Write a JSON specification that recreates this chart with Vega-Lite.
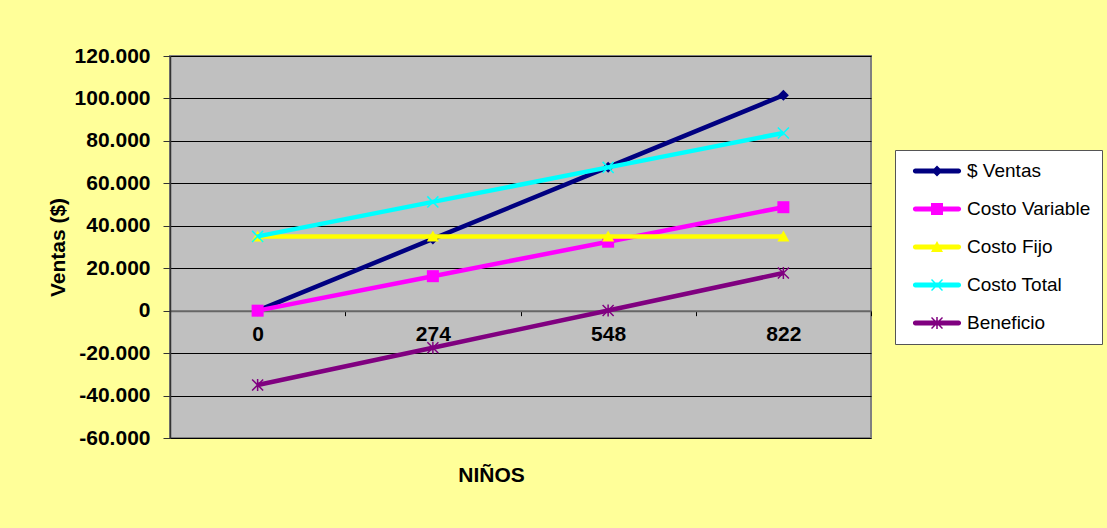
{
  "$schema": "https://vega.github.io/schema/vega-lite/v6.json",
  "width": 701,
  "height": 382,
  "autosize": "none",
  "padding": {"left": 170, "top": 56, "right": 236, "bottom": 90},
  "background": "#FFFF99",
  "config": {
    "locale": {"number": {"decimal": ",", "thousands": ".", "grouping": [3], "currency": ["$", ""], "minus": "-"}},
    "view": {"fill": "#C0C0C0", "stroke": "#808080", "strokeWidth": 2},
    "font": "Liberation Sans"
  },
  "title": {"text": "NIÑOS", "orient": "bottom", "frame": "group", "anchor": "middle", "dx": -29, "offset": 17, "font": "Liberation Sans", "fontSize": 21, "fontWeight": "bold", "color": "black"},
  "data": {"values": [
    {"serie": "$ Ventas", "ninos": 0, "valor": 0},
    {"serie": "$ Ventas", "ninos": 274, "valor": 33800},
    {"serie": "$ Ventas", "ninos": 548, "valor": 67600},
    {"serie": "$ Ventas", "ninos": 822, "valor": 101500},
    {"serie": "Costo Variable", "ninos": 0, "valor": 0},
    {"serie": "Costo Variable", "ninos": 274, "valor": 16250},
    {"serie": "Costo Variable", "ninos": 548, "valor": 32500},
    {"serie": "Costo Variable", "ninos": 822, "valor": 48750},
    {"serie": "Costo Fijo", "ninos": 0, "valor": 35000},
    {"serie": "Costo Fijo", "ninos": 274, "valor": 35000},
    {"serie": "Costo Fijo", "ninos": 548, "valor": 35000},
    {"serie": "Costo Fijo", "ninos": 822, "valor": 35000},
    {"serie": "Costo Total", "ninos": 0, "valor": 35000},
    {"serie": "Costo Total", "ninos": 274, "valor": 51250},
    {"serie": "Costo Total", "ninos": 548, "valor": 67500},
    {"serie": "Costo Total", "ninos": 822, "valor": 83750},
    {"serie": "Beneficio", "ninos": 0, "valor": -35000},
    {"serie": "Beneficio", "ninos": 274, "valor": -17450},
    {"serie": "Beneficio", "ninos": 548, "valor": 100},
    {"serie": "Beneficio", "ninos": 822, "valor": 17750}
  ]},
  "encoding": {
    "x": {
      "field": "ninos", "type": "ordinal",
      "scale": {"type": "band", "paddingInner": 0, "paddingOuter": 0},
      "axis": {
        "title": null, "orient": "bottom", "offset": -127.33, "grid": false,
        "domain": true, "domainColor": "#666666", "domainWidth": 2,
        "ticks": true, "tickBand": "extent", "tickSize": 5, "tickColor": "#000000", "tickWidth": 1,
        "labelAngle": 0, "labelFont": "Liberation Sans", "labelFontSize": 21, "labelFontWeight": "bold", "labelColor": "black", "labelPadding": 8
      }
    },
    "y": {
      "field": "valor", "type": "quantitative",
      "scale": {"domain": [-60000, 120000], "nice": false, "zero": false},
      "axis": {
        "title": "Ventas ($)", "titleFont": "Liberation Sans", "titleFontSize": 21, "titleFontWeight": "bold", "titleColor": "black", "titlePadding": 6,
        "values": [-60000, -40000, -20000, 0, 20000, 40000, 60000, 80000, 100000, 120000],
        "format": ",.0f",
        "grid": true, "gridColor": "#000000", "gridWidth": 1, "gridOpacity": 1,
        "domain": true, "domainColor": "#333333", "domainWidth": 1.5,
        "ticks": true, "tickSize": 7, "tickColor": "#333333", "tickWidth": 1,
        "labelFont": "Liberation Sans", "labelFontSize": 21, "labelFontWeight": "bold", "labelColor": "black", "labelPadding": 13
      }
    }
  },
  "layer": [
    {
      "transform": [{"filter": "datum.serie == '$ Ventas'"}],
      "mark": {"type": "line", "color": "#000080", "strokeWidth": 4.5, "strokeCap": "butt",
        "point": {"filled": true, "opacity": 1, "size": 144, "color": "#000080", "shape": "M0,-0.92L0.92,0L0,0.92L-0.92,0Z"}}
    },
    {
      "transform": [{"filter": "datum.serie == 'Costo Variable'"}],
      "mark": {"type": "line", "color": "#FF00FF", "strokeWidth": 4.5, "strokeCap": "butt",
        "point": {"filled": true, "opacity": 1, "size": 144, "color": "#FF00FF", "shape": "M-1,-1H1V1H-1Z"}}
    },
    {
      "transform": [{"filter": "datum.serie == 'Costo Fijo'"}],
      "mark": {"type": "line", "color": "#FFFF00", "strokeWidth": 4.5, "strokeCap": "butt",
        "point": {"filled": true, "opacity": 1, "size": 144, "color": "#FFFF00", "shape": "M0,-1L1,0.85L-1,0.85Z"}}
    },
    {
      "transform": [{"filter": "datum.serie == 'Costo Total'"}],
      "mark": {"type": "line", "color": "#00FFFF", "strokeWidth": 4.5, "strokeCap": "butt",
        "point": {"filled": true, "opacity": 1, "size": 144, "color": "#00FFFF", "shape": "M-0.832,-1.008L1.008,0.832L0.832,1.008L-1.008,-0.832ZM1.008,-0.832L-0.832,1.008L-1.008,0.832L0.832,-1.008Z"}}
    },
    {
      "transform": [{"filter": "datum.serie == 'Beneficio'"}],
      "mark": {"type": "line", "color": "#800080", "strokeWidth": 4.5, "strokeCap": "butt",
        "point": {"filled": true, "opacity": 1, "size": 144, "color": "#800080", "shape": "M-0.832,-1.008L1.008,0.832L0.832,1.008L-1.008,-0.832ZM1.008,-0.832L-0.832,1.008L-1.008,0.832L0.832,-1.008ZM-0.125,-1H0.125V1H-0.125Z"}}
    },
    {
      "transform": [{"filter": "datum.ninos < 0"}],
      "mark": {"type": "point", "filled": true, "opacity": 1},
      "encoding": {
        "size": {"value": 400},
        "color": {"field": "serie", "type": "nominal",
          "scale": {"domain": ["$ Ventas", "Costo Variable", "Costo Fijo", "Costo Total", "Beneficio"], "range": ["#000080", "#FF00FF", "#FFFF00", "#00FFFF", "#800080"]},
          "legend": {"title": null, "orient": "none", "legendX": 725, "legendY": 94, "fillColor": "white", "strokeColor": "#555555", "padding": 11, "rowPadding": 18, "labelFont": "Liberation Sans", "labelFontSize": 19, "labelColor": "black", "labelOffset": 20, "symbolOffset": 21, "symbolSize": 400, "symbolStrokeWidth": 0, "symbolOpacity": 1, "labelLimit": 300}},
        "shape": {"field": "serie", "type": "nominal",
          "scale": {"domain": ["$ Ventas", "Costo Variable", "Costo Fijo", "Costo Total", "Beneficio"],
            "range": [
              "M-2.16,-0.25H2.16A0.25,0.25 0 0 1 2.16,0.25H-2.16A0.25,0.25 0 0 1 -2.16,-0.25ZM0,-0.55L0.55,0L0,0.55L-0.55,0Z",
              "M-2.16,-0.25H2.16A0.25,0.25 0 0 1 2.16,0.25H-2.16A0.25,0.25 0 0 1 -2.16,-0.25ZM-0.6,-0.6H0.6V0.6H-0.6Z",
              "M-2.16,-0.25H2.16A0.25,0.25 0 0 1 2.16,0.25H-2.16A0.25,0.25 0 0 1 -2.16,-0.25ZM0,-0.6L0.6,0.51L-0.6,0.51Z",
              "M-2.16,-0.25H2.16A0.25,0.25 0 0 1 2.16,0.25H-2.16A0.25,0.25 0 0 1 -2.16,-0.25ZM-0.5,-0.6L0.6,0.5L0.5,0.6L-0.6,-0.5ZM0.6,-0.5L-0.5,0.6L-0.6,0.5L0.5,-0.6Z",
              "M-2.16,-0.25H2.16A0.25,0.25 0 0 1 2.16,0.25H-2.16A0.25,0.25 0 0 1 -2.16,-0.25ZM-0.5,-0.6L0.6,0.5L0.5,0.6L-0.6,-0.5ZM0.6,-0.5L-0.5,0.6L-0.6,0.5L0.5,-0.6ZM-0.075,-0.6H0.075V0.6H-0.075Z"
            ]},
          "legend": {"title": null, "orient": "none", "legendX": 725, "legendY": 94, "fillColor": "white", "strokeColor": "#555555", "padding": 11, "rowPadding": 18, "labelFont": "Liberation Sans", "labelFontSize": 19, "labelColor": "black", "labelOffset": 20, "symbolOffset": 21, "symbolSize": 400, "symbolStrokeWidth": 0, "symbolOpacity": 1, "labelLimit": 300}}
      }
    }
  ]
}
